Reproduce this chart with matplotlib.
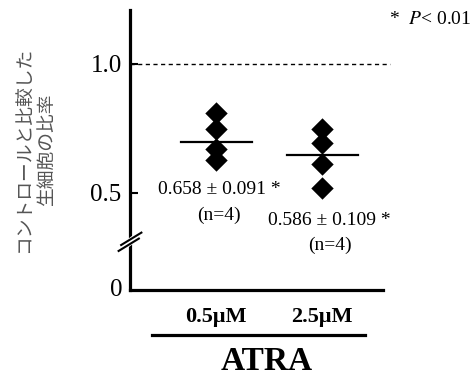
import numpy as np
import matplotlib.pyplot as plt
from matplotlib.transforms import blended_transform_factory

# data
groups = ['0.5μM', '2.5μM']
group_x = [1, 2]
points_05 = [0.811, 0.747, 0.669, 0.628]
points_25 = [0.747, 0.693, 0.612, 0.518]
mean_lines = [0.697, 0.647]
stats_text = ['0.658 ± 0.091 *', '0.586 ± 0.109 *']
n_text = ['(n=4)', '(n=4)']
ytick_vals = [0.5, 1.0]
ytick_labels = ['0.5', '1.0']
y_bottom = 0.124
y_top = 1.209
ylabel_lines = ['コントロールと比較した', '生細胞の比率']

serif = 'Liberation Serif'
jp = ['Noto Sans CJK JP', 'DejaVu Sans']

W, H = 477, 380
fig = plt.figure(figsize=(W / 100, H / 100), dpi=100)
ax = fig.add_axes([130 / W, 1 - 290 / H, (383 - 130) / W, (290 - 10) / H])

ax.set_ylim(y_bottom, y_top)
ax.set_xlim(0.189, 2.575)

for sp in ['top', 'right']:
    ax.spines[sp].set_visible(False)
for sp in ['left', 'bottom']:
    ax.spines[sp].set_linewidth(2.3)
    ax.spines[sp].set_color('black')

# dashed reference line at 1.0
ax.plot([0.189, 2.64], [1.0, 1.0], ls=(0, (3, 2.5)), color='black', lw=1.0, clip_on=False)

# individual points and means
for gx, pts in zip(group_x, [points_05, points_25]):
    ax.scatter([gx] * len(pts), pts, marker='D', s=130, color='black', zorder=3, linewidths=0)
for gx, m in zip(group_x, mean_lines):
    ax.plot([gx - 0.33, gx + 0.34], [m, m], color='black', lw=1.6, zorder=2)

# stats annotations
ax.text(1.03, 0.512, stats_text[0], ha='center', va='center', fontsize=14, family=serif)
ax.text(1.03, 0.415, n_text[0], ha='center', va='center', fontsize=14, family=serif)
ax.text(2.07, 0.395, stats_text[1], ha='center', va='center', fontsize=14, family=serif)
ax.text(2.07, 0.298, n_text[1], ha='center', va='center', fontsize=14, family=serif)

# y ticks
ax.set_yticks(ytick_vals)
ax.set_yticklabels(ytick_labels, family=serif, fontsize=18)
ax.tick_params(axis='y', direction='in', length=6, width=1.5, pad=6)
ax.text(-0.03, 0.0, '0', transform=ax.transAxes, ha='right', va='center',
        family=serif, fontsize=18)

# x tick labels
ax.set_xticks(group_x)
ax.set_xticklabels(groups, family=serif, fontsize=16, fontweight='bold')
ax.tick_params(axis='x', length=0, pad=12)

# axis break marks
tr = blended_transform_factory(ax.transAxes, ax.transData)
yb = 0.124 + (290 - 236) / 258.0
ax.plot([-0.03, 0.03], [yb - 0.045, yb + 0.000], color='white', lw=5, transform=tr, clip_on=False, zorder=4)
ax.plot([-0.045, 0.035], [yb - 0.058, yb - 0.010], color='black', lw=1.5, transform=tr, clip_on=False, zorder=5)
ax.plot([-0.035, 0.045], [yb - 0.035, yb + 0.013], color='black', lw=1.5, transform=tr, clip_on=False, zorder=5)

# group bar and ATRA label
fig.add_artist(plt.Line2D([152 / W, 365 / W], [1 - 335 / H, 1 - 335 / H], color='black', lw=2.3))
fig.text(267 / W, 1 - 362 / H, 'ATRA', ha='center', va='center', family=serif,
         fontsize=24, fontweight='bold')

# y label (two lines, rotated)
fig.text(23 / W, 1 - 150 / H, ylabel_lines[0], rotation=90, ha='center', va='center',
         family=jp, fontsize=13.5, color='#555555')
fig.text(46 / W, 1 - 150 / H, ylabel_lines[1], rotation=90, ha='center', va='center',
         family=jp, fontsize=13.5, color='#555555')

fig.text(430 / W, 1 - 20 / H, '*  $\\it{P}$< 0.01', ha='center', va='center',
         family=serif, fontsize=14, math_fontfamily='stix')

fig.savefig('out.png', dpi=100)
